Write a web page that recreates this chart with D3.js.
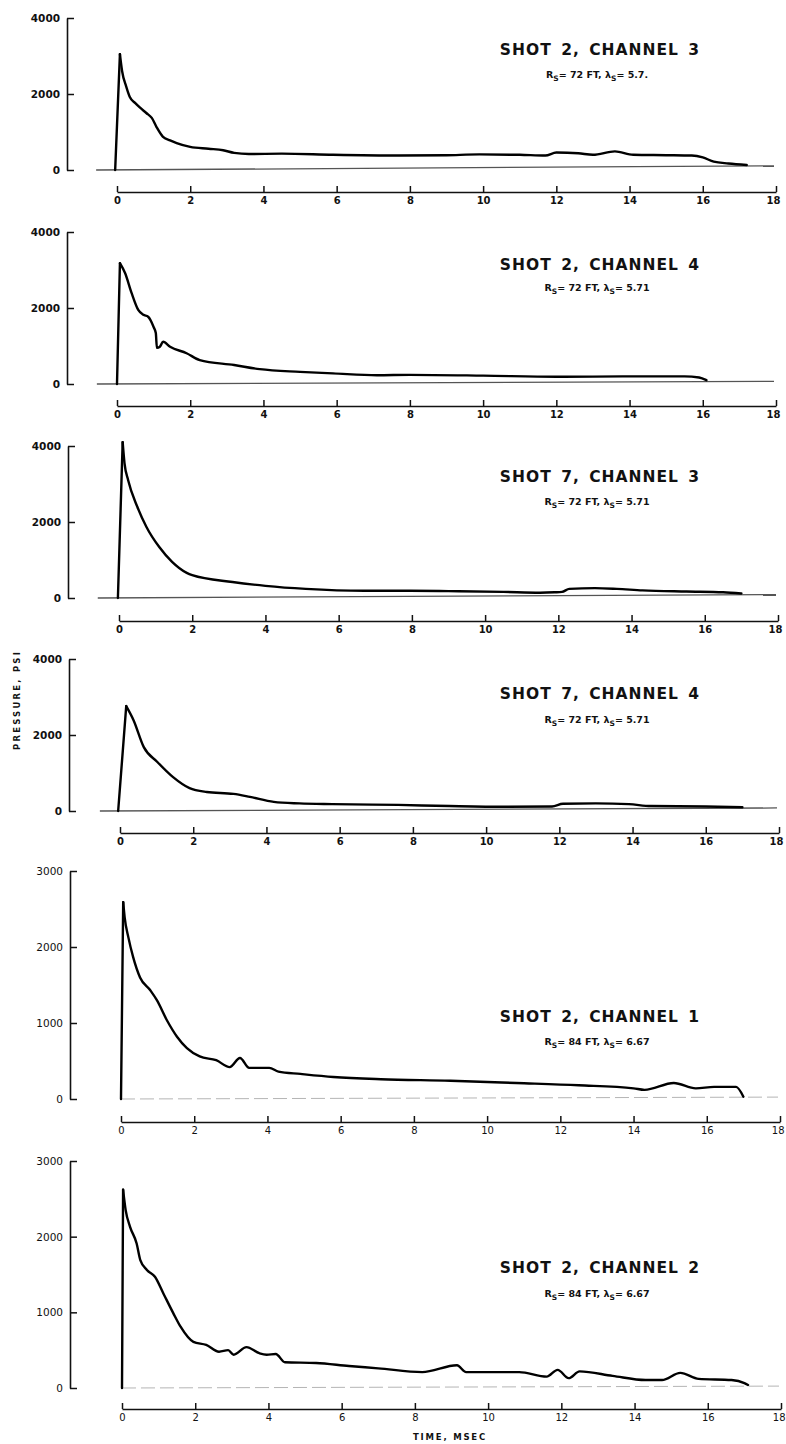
<!DOCTYPE html>
<html><head><meta charset="utf-8">
<script src="https://cdn.jsdelivr.net/npm/d3@7"></script>
<style>body{margin:0;background:#fff} svg{display:block}</style>
</head><body>
<script>
// ---------- DATA ----------
const xTickValues = [0, 2, 4, 6, 8, 10, 12, 14, 16, 18];
const yTicks4000 = [0, 2000, 4000];
const yTicks3000 = [0, 1000, 2000, 3000];

const panelTitles = ["SHOT 2, CHANNEL 3", "SHOT 2, CHANNEL 4", "SHOT 7, CHANNEL 3",
                     "SHOT 7, CHANNEL 4", "SHOT 2, CHANNEL 1", "SHOT 2, CHANNEL 2"];
const rsValues = ["72", "72", "72", "72", "84", "84"];
const lambdaValues = ["5.7.", "5.71", "5.71", "5.71", "6.67", "6.67"];
const yMaxValues = [4000, 4000, 4000, 4000, 3000, 3000];
const baselineDrift = [110, 70, 90, 80, 25, 25];

// time (msec), pressure (psi)
const shot2ch3 = [[-0.05,0],[0.08,3050],[0.14,2600],[0.25,2200],[0.35,1920],[0.5,1760],[0.63,1640],[0.8,1500],[0.95,1370],[1.08,1130],[1.25,880],[1.45,780],[1.63,710],[2.0,610],[2.5,560],[2.9,520],[3.2,450],[3.6,420],[4.5,430],[5.9,400],[7.7,380],[9.0,390],[9.9,410],[11.0,400],[11.7,380],[12.0,460],[12.6,440],[13.0,400],[13.6,490],[14.1,400],[15.0,390],[15.7,380],[16.0,330],[16.3,220],[16.7,170],[17.2,130]];
const shot2ch4 = [[0,0],[0.08,3180],[0.22,2920],[0.4,2390],[0.58,1950],[0.72,1820],[0.85,1770],[1.0,1500],[1.06,1340],[1.09,950],[1.17,980],[1.26,1110],[1.45,980],[1.9,810],[2.26,630],[3.2,500],[3.9,390],[5.0,320],[5.9,280],[7.1,230],[8.0,240],[10.0,220],[12.0,190],[14.0,200],[15.5,200],[15.9,170],[16.1,100]];
const shot7ch3 = [[-0.03,0],[0.1,4100],[0.15,3550],[0.25,3100],[0.5,2400],[0.75,1870],[1.1,1340],[1.45,950],[1.85,660],[2.0,600],[3.1,420],[4.0,320],[5.1,240],[6.7,190],[7.6,190],[9.0,180],[10.5,160],[11.5,140],[11.9,150],[12.1,160],[12.3,240],[13.0,260],[13.6,240],[14.3,200],[15.5,170],[16.5,150],[17.0,120]];
const shot7ch4 = [[-0.05,0],[0.17,2760],[0.37,2390],[0.65,1680],[1.02,1290],[1.45,890],[1.9,600],[2.37,500],[3.1,450],[3.55,370],[4.2,240],[4.9,200],[5.8,180],[7.6,160],[9.0,130],[10.5,110],[11.8,120],[12.1,190],[13.0,200],[13.9,180],[14.5,130],[16.0,120],[17.0,100]];
const shot2ch1 = [[0,0],[0.06,2590],[0.1,2390],[0.2,2130],[0.33,1870],[0.52,1600],[0.8,1430],[0.98,1300],[1.25,1040],[1.53,820],[1.8,670],[2.15,560],[2.6,510],[2.97,420],[3.25,540],[3.5,410],[4.05,410],[4.3,360],[4.9,330],[5.8,290],[7.1,260],[9.0,240],[10.8,210],[12.5,180],[14.0,140],[14.3,120],[15.1,210],[15.7,140],[16.2,160],[16.8,160],[17.0,30]];
const shot2ch2 = [[0,0],[0.03,2620],[0.1,2350],[0.22,2130],[0.4,1910],[0.5,1690],[0.68,1560],[0.9,1470],[1.13,1250],[1.4,990],[1.6,810],[1.95,610],[2.3,570],[2.65,480],[2.9,500],[3.05,440],[3.4,540],[3.75,460],[3.95,440],[4.2,450],[4.45,340],[5.3,330],[6.2,290],[7.0,260],[8.2,210],[9.15,300],[9.4,210],[10.85,210],[11.6,150],[11.9,240],[12.2,130],[12.5,220],[13.4,160],[14.3,105],[14.75,105],[15.25,200],[15.75,120],[16.65,105],[17.0,65],[17.1,40]];

const seriesList = [shot2ch3, shot2ch4, shot7ch3, shot7ch4, shot2ch1, shot2ch2];
const yTickSets = [yTicks4000, yTicks4000, yTicks4000, yTicks4000, yTicks3000, yTicks3000];

// ---------- LAYOUT ----------
const layout = [
  {zero:170,  top:18,   xAxisY:192,  yAxisX:67, x0:117, titleY:55,   subY:78,   baseStart:-0.57, bold:true},
  {zero:384,  top:232,  xAxisY:406,  yAxisX:67, x0:117, titleY:270,  subY:291,  baseStart:-0.55, bold:true},
  {zero:598,  top:446,  xAxisY:621,  yAxisX:68, x0:119, titleY:482,  subY:505,  baseStart:-0.58, bold:true},
  {zero:811,  top:659,  xAxisY:833,  yAxisX:69, x0:120, titleY:699,  subY:723,  baseStart:-0.55, bold:true},
  {zero:1099, top:871,  xAxisY:1122, yAxisX:70, x0:121, titleY:1022, subY:1045, baseStart:0,     bold:false},
  {zero:1388, top:1161, xAxisY:1409, yAxisX:70, x0:122, titleY:1273, subY:1297, baseStart:0,     bold:false}
];

const W = 786, H = 1444;
const FONT = "'DejaVu Sans', sans-serif";
const svg = d3.select("body").append("svg").attr("width", W).attr("height", H);
svg.append("rect").attr("width", W).attr("height", H).attr("fill", "#fff");

seriesList.forEach((data, i) => {
  const L = layout[i];
  const x = d3.scaleLinear().domain([0, 18]).range([L.x0, L.x0 + 659]);
  const y = d3.scaleLinear().domain([0, yMaxValues[i]]).range([L.zero, L.top]);
  const g = svg.append("g");

  // record baseline
  g.append("line")
    .attr("x1", x(L.baseStart)).attr("x2", x(18) - 2)
    .attr("y1", y(0)).attr("y2", y(baselineDrift[i]))
    .attr("stroke", L.bold ? "#555" : "#b5b5b5")
    .attr("stroke-width", L.bold ? 1.3 : 1)
    .attr("stroke-dasharray", L.bold ? null : "14,5");

  // y axis
  const yAxis = d3.axisLeft(y).tickValues(yTickSets[i]).tickSize(-7).tickSizeOuter(0)
    .tickPadding(7).tickFormat(d3.format("d"));
  const ga = g.append("g").attr("transform", `translate(${L.yAxisX},0)`).call(yAxis);
  ga.select(".domain").attr("stroke", "#111").attr("stroke-width", 1.6);
  ga.selectAll(".tick line").attr("stroke", "#111").attr("stroke-width", 1.5);
  ga.selectAll(".tick text").attr("font-family", FONT).attr("font-size", 10.5)
    .attr("font-weight", L.bold ? "bold" : "normal").attr("fill", "#111");

  // x axis
  const xAxis = d3.axisBottom(x).tickValues(xTickValues).tickSize(-6).tickSizeOuter(0)
    .tickPadding(5).tickFormat(d3.format("d"));
  const gx = g.append("g").attr("transform", `translate(0,${L.xAxisY})`).call(xAxis);
  gx.select(".domain").attr("stroke", "#111").attr("stroke-width", 1.6);
  gx.selectAll(".tick line").attr("stroke", "#111").attr("stroke-width", 1.5);
  gx.selectAll(".tick text").attr("font-family", FONT).attr("font-size", 10)
    .attr("font-weight", L.bold ? "bold" : "normal").attr("fill", "#111");
  gx.selectAll(".tick text").filter(d => d === 18).attr("text-anchor", "end").attr("x", 4);

  // pressure trace: straight rise to the peak, smooth decay after it
  const rise = d3.line().x(d => x(d[0])).y(d => y(d[1])).curve(d3.curveLinear);
  const decay = d3.line().x(d => x(d[0])).y(d => y(d[1])).curve(d3.curveMonotoneX);
  const p = g.append("g").attr("fill", "none").attr("stroke", "#000").attr("stroke-width", 2.4)
    .attr("stroke-linejoin", "miter").attr("stroke-linecap", "round");
  p.append("path").datum(data.slice(0, 2)).attr("d", rise);
  p.append("path").datum(data.slice(1)).attr("d", decay);

  // title
  g.append("text").attr("x", 600).attr("y", L.titleY).attr("text-anchor", "middle")
    .attr("font-family", FONT).attr("font-weight", "bold").attr("font-size", 15.5)
    .attr("letter-spacing", 1).attr("word-spacing", 3).attr("fill", "#111")
    .text(panelTitles[i]);

  // subtitle with subscripts
  const st = g.append("text").attr("x", 597).attr("y", L.subY).attr("text-anchor", "middle")
    .attr("font-family", FONT).attr("font-weight", "bold").attr("font-size", 9.5).attr("fill", "#111");
  st.append("tspan").text("R");
  st.append("tspan").attr("dy", 3).attr("font-size", 7.5).text("S");
  st.append("tspan").attr("dy", -3).text("= " + rsValues[i] + " FT,  λ");
  st.append("tspan").attr("dy", 3).attr("font-size", 7.5).text("S");
  st.append("tspan").attr("dy", -3).text("= " + lambdaValues[i]);
});

// shared axis titles
svg.append("text").attr("transform", "translate(20,700) rotate(-90)")
  .attr("text-anchor", "middle").attr("font-family", FONT).attr("font-weight", "bold")
  .attr("font-size", 8.5).attr("letter-spacing", 2.2).attr("fill", "#111")
  .text("PRESSURE, PSI");
svg.append("text").attr("x", 450).attr("y", 1440).attr("text-anchor", "middle")
  .attr("font-family", FONT).attr("font-weight", "bold").attr("font-size", 8.5)
  .attr("letter-spacing", 1.8).attr("fill", "#111")
  .text("TIME, MSEC");
</script>
</body></html>
